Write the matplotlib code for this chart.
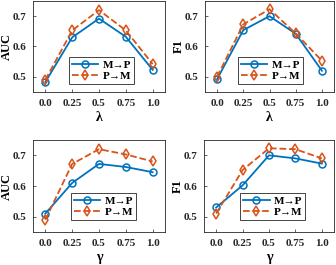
import numpy as np
import matplotlib.pyplot as plt

plt.rcParams["font.family"] = ["Liberation Serif", "DejaVu Serif"]
plt.rcParams["font.weight"] = "bold"
plt.rcParams["font.size"] = 8

x = [0.0, 0.25, 0.5, 0.75, 1.0]
xticklabels = ["0.0", "0.25", "0.5", "0.75", "1.0"]

auc_lambda_mp = [0.483, 0.630, 0.692, 0.632, 0.523]
auc_lambda_pm = [0.490, 0.653, 0.720, 0.653, 0.542]
f1_lambda_mp = [0.492, 0.654, 0.700, 0.642, 0.520]
f1_lambda_pm = [0.500, 0.673, 0.723, 0.643, 0.553]
auc_gamma_mp = [0.510, 0.610, 0.672, 0.662, 0.645]
auc_gamma_pm = [0.490, 0.672, 0.720, 0.703, 0.680]
f1_gamma_mp = [0.530, 0.602, 0.700, 0.690, 0.673]
f1_gamma_pm = [0.510, 0.652, 0.723, 0.720, 0.690]

blue = "#0072BD"
orange = "#D95319"

panels = [
    (auc_lambda_mp, auc_lambda_pm, "AUC", "λ", [33, 1, 165, 92], (0.765, 0.09)),
    (f1_lambda_mp, f1_lambda_pm, "F1", "λ", [205, 1, 334, 92], (0.76, 0.09)),
    (auc_gamma_mp, auc_gamma_pm, "AUC", "γ", [33, 140, 165, 232], (0.78, 0.13)),
    (f1_gamma_mp, f1_gamma_pm, "F1", "γ", [204, 140, 334, 232], (0.78, 0.13)),
]

W, H = 336, 265
fig = plt.figure(figsize=(W / 100, H / 100), dpi=100)

for mp, pm, ylab, xlab, (l, t, r, b), anchor in panels:
    ax = fig.add_axes([l / W, 1 - b / H, (r - l) / W, (b - t) / H])
    ax.plot(x, mp, "-o", color=blue, lw=1.3, ms=5, mfc="none", mew=1.1, label="M→P")
    ax.plot(x, pm, "--d", color=orange, lw=1.3, ms=5, mfc="none", mew=1.1, label="P→M")
    ax.set_xlim(-0.115, 1.115)
    ax.set_ylim(0.45, 0.75)
    ax.set_xticks(x)
    ax.set_xticklabels(xticklabels)
    ax.set_yticks([0.5, 0.6, 0.7])
    ax.tick_params(direction="in", length=2, width=0.5, colors="#262626",
                   labelcolor="#262626", labelsize=8, pad=5)
    for s in ax.spines.values():
        s.set_linewidth(0.6)
        s.set_color("#262626")
    ax.set_ylabel(ylab, fontsize=9, fontweight="bold")
    # label's right edge a fixed number of pixels left of the axes
    ax.yaxis.set_label_coords(-20 / (r - l), 0.5)
    ax.set_xlabel(xlab, fontsize=10, fontweight="bold", labelpad=2)
    leg = ax.legend(loc="lower right", bbox_to_anchor=anchor, fontsize=8, frameon=True,
                    fancybox=False, edgecolor="#262626", framealpha=1, borderpad=0.25,
                    handlelength=2.4, handletextpad=0.4, labelspacing=0.15, borderaxespad=0)
    leg.get_frame().set_linewidth(0.6)

fig.savefig("out.png", dpi=100)
